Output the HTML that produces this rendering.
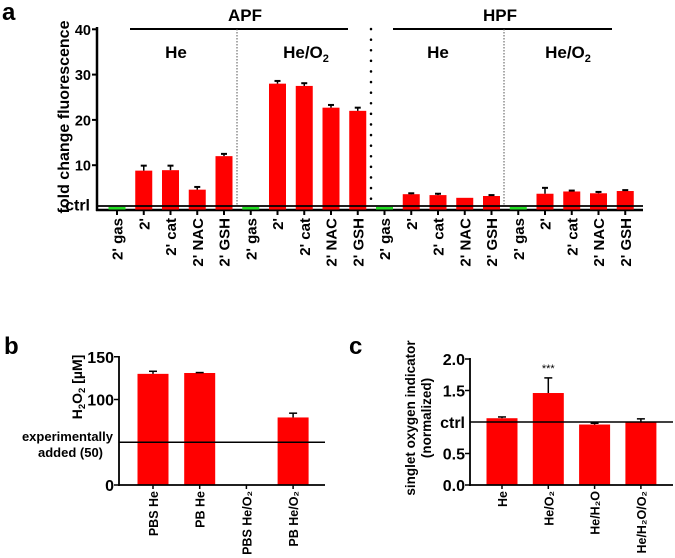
<!DOCTYPE html>
<html><head><meta charset="utf-8"><style>
body{margin:0;background:#fff}
svg{display:block;font-family:"Liberation Sans",Arial,sans-serif;font-weight:bold}
</style></head><body>
<svg id="s" width="675" height="558" viewBox="0 0 675 558">
<text x="2" y="20" font-size="24">a</text>
<text x="4" y="354" font-size="24">b</text>
<text x="349" y="354" font-size="24">c</text>
<g id="ga"></g>
<g id="gb"></g>
<g id="gc"></g>
</svg>
<script>
// Chart a data
const aCats=["2' gas","2'","2' cat","2' NAC","2' GSH","2' gas","2'","2' cat","2' NAC","2' GSH","2' gas","2'","2' cat","2' NAC","2' GSH","2' gas","2'","2' cat","2' NAC","2' GSH"];
const aVals=[0.8,8.8,8.9,4.6,12.0,0.8,28.0,27.5,22.7,22.0,0.8,3.6,3.4,2.8,3.2,0.8,3.7,4.2,3.8,4.3];
const aErr=[0,1.1,1.0,0.6,0.5,0,0.6,0.6,0.6,0.7,0,0.2,0.3,0,0.2,0,1.3,0.2,0.3,0.2];
const aTicks=[10,20,30,40];
// Chart b data
const bCats=["PBS He","PB He","PBS He/O₂","PB He/O₂"];
const bVals=[130,131,0,79];
const bErr=[3,0.5,0,5];
const bTicks=[0,100,150];
// Chart c data
const cCats=["He","He/O₂","He/H₂O","He/H₂O/O₂"];
const cVals=[1.06,1.46,0.96,1.00];
const cErr=[0.02,0.24,0.02,0.05];
const cTicks=["0.0","0.5","1.5","2.0"];
const NS="http://www.w3.org/2000/svg";
function mk(p,t,a,txt){const e=document.createElementNS(NS,t);for(const k in a)e.setAttribute(k,a[k]);if(txt!==undefined)e.textContent=txt;p.appendChild(e);return e;}
// ---- A ----
const ga=document.getElementById('ga');
const ay=v=>210.5-v*4.53, ax=i=>117+i*26.75;
mk(ga,'line',{x1:97,y1:27,x2:97,y2:211,stroke:'#000','stroke-width':2.5});
mk(ga,'line',{x1:96,y1:210,x2:643,y2:210,stroke:'#000','stroke-width':2.5});
aTicks.forEach(t=>{mk(ga,'line',{x1:92,y1:ay(t),x2:97,y2:ay(t),stroke:'#000','stroke-width':2});
const tl=mk(ga,'text',{x:91,y:ay(t)+5.5,'font-size':14.5,'text-anchor':'end'},t);

});
mk(ga,'text',{x:90,y:210.5,'font-size':16,'text-anchor':'end'},'ctrl');
const at=mk(ga,'text',{transform:'translate(69,117) rotate(-90)','font-size':16,'text-anchor':'middle'},'fold change fluorescence');

aVals.forEach((v,i)=>{const x=ax(i);
const r=mk(ga,'rect',{x:x-8.5,y:ay(v),width:17,height:ay(0)-ay(v)-1,fill:(i%5==0)?'#22dd22':'#ff0000'});

if(aErr[i]>0){mk(ga,'line',{x1:x,y1:ay(v),x2:x,y2:ay(v+aErr[i]),stroke:'#000','stroke-width':1.5});
mk(ga,'line',{x1:x-3,y1:ay(v+aErr[i]),x2:x+3,y2:ay(v+aErr[i]),stroke:'#000','stroke-width':2});}
mk(ga,'line',{x1:x,y1:210,x2:x,y2:215,stroke:'#000','stroke-width':2});
const l=mk(ga,'text',{transform:`translate(${x+5.5},218) rotate(-90)`,'font-size':15,'text-anchor':'end'},aCats[i]);
});
mk(ga,'line',{x1:97,y1:ay(1),x2:643,y2:ay(1),stroke:'#000','stroke-width':1.8});
mk(ga,'line',{x1:130,y1:29,x2:348,y2:29,stroke:'#000','stroke-width':2});
mk(ga,'line',{x1:393,y1:29,x2:612,y2:29,stroke:'#000','stroke-width':2});
mk(ga,'text',{x:245,y:21,'font-size':17,'text-anchor':'middle'},'APF');
mk(ga,'text',{x:500,y:21,'font-size':17,'text-anchor':'middle'},'HPF');
mk(ga,'line',{x1:237,y1:29,x2:237,y2:205,stroke:'#555','stroke-width':1,'stroke-dasharray':'1.5,1.5'});
mk(ga,'line',{x1:504,y1:29,x2:504,y2:205,stroke:'#555','stroke-width':1,'stroke-dasharray':'1.5,1.5'});
mk(ga,'line',{x1:371,y1:29,x2:371,y2:205,stroke:'#000','stroke-width':2.5,'stroke-dasharray':'0.1,10.5','stroke-linecap':'round'});
[[176,'He'],[438,'He']].forEach(([x,t])=>mk(ga,'text',{x:x,y:58,'font-size':17,'text-anchor':'middle'},t));
[[306],[568]].forEach(([x])=>{const t=mk(ga,'text',{x:x,y:58,'font-size':17,'text-anchor':'middle'},'He/O');mk(t,'tspan',{'font-size':11,dy:4},'2');});
// ---- B ----
const gb=document.getElementById('gb');
const by=v=>485-v*0.855, bx=i=>153+i*46.7;
bVals.forEach((v,i)=>{const x=bx(i);
const r=mk(gb,'rect',{x:x-15.5,y:by(v),width:31,height:by(0)-by(v),fill:'#ff0000'});

if(bErr[i]>0){mk(gb,'line',{x1:x,y1:by(v),x2:x,y2:by(v+bErr[i]),stroke:'#000','stroke-width':1.5});
mk(gb,'line',{x1:x-4,y1:by(v+bErr[i]),x2:x+4,y2:by(v+bErr[i]),stroke:'#000','stroke-width':1.5});}
mk(gb,'line',{x1:x,y1:485,x2:x,y2:489,stroke:'#000','stroke-width':1.5});
const l=mk(gb,'text',{transform:`translate(${x+5},491) rotate(-90)`,'font-size':12.5,'text-anchor':'end'},bCats[i]);
});
mk(gb,'line',{x1:119,y1:356,x2:119,y2:486,stroke:'#000','stroke-width':1.8});
mk(gb,'line',{x1:118,y1:485,x2:325,y2:485,stroke:'#000','stroke-width':1.8});
mk(gb,'line',{x1:119,y1:by(50),x2:325,y2:by(50),stroke:'#000','stroke-width':1.5});
bTicks.forEach(t=>{mk(gb,'line',{x1:114,y1:by(t),x2:119,y2:by(t),stroke:'#000','stroke-width':1.5});
const tl=mk(gb,'text',{x:114,y:by(t)+6,'font-size':16,'text-anchor':'end'},t);
});
mk(gb,'text',{x:113,y:441,'font-size':13,'text-anchor':'end'},'experimentally');
mk(gb,'text',{x:103,y:457,'font-size':13,'text-anchor':'end'},'added (50)');
const bt=mk(gb,'text',{transform:'translate(82,387) rotate(-90)','font-size':14,'text-anchor':'middle'});

bt.appendChild(document.createTextNode('H'));mk(bt,'tspan',{'font-size':9.5,dy:3},'2');mk(bt,'tspan',{dy:-3},'O');mk(bt,'tspan',{'font-size':9.5,dy:3},'2');mk(bt,'tspan',{dy:-3},' [µM]');
// ---- C ----
const gc=document.getElementById('gc');
const cy=v=>485-v*63, cx=i=>502+i*46.3;
cVals.forEach((v,i)=>{const x=cx(i);
const r=mk(gc,'rect',{x:x-15.5,y:cy(v),width:31,height:cy(0)-cy(v),fill:'#ff0000'});

mk(gc,'line',{x1:x,y1:cy(v),x2:x,y2:cy(v+cErr[i]),stroke:'#000','stroke-width':1.5});
mk(gc,'line',{x1:x-4,y1:cy(v+cErr[i]),x2:x+4,y2:cy(v+cErr[i]),stroke:'#000','stroke-width':1.5});
mk(gc,'line',{x1:x,y1:485,x2:x,y2:489,stroke:'#000','stroke-width':1.5});
const l=mk(gc,'text',{transform:`translate(${x+5},491) rotate(-90)`,'font-size':12.5,'text-anchor':'end'},cCats[i]);
});
mk(gc,'text',{x:cx(1),y:372,'font-size':11,'text-anchor':'middle','font-weight':'normal'},'***');
mk(gc,'line',{x1:470,y1:358,x2:470,y2:486,stroke:'#000','stroke-width':1.8});
mk(gc,'line',{x1:469,y1:485,x2:673,y2:485,stroke:'#000','stroke-width':1.8});
mk(gc,'line',{x1:470,y1:cy(1),x2:673,y2:cy(1),stroke:'#000','stroke-width':1.5});
cTicks.forEach(t=>{const v=parseFloat(t);mk(gc,'line',{x1:465,y1:cy(v),x2:470,y2:cy(v),stroke:'#000','stroke-width':1.5});
const tl=mk(gc,'text',{x:465,y:cy(v)+6,'font-size':16,'text-anchor':'end'},t);
});
mk(gc,'text',{x:465,y:cy(1)+6,'font-size':16,'text-anchor':'end'},'ctrl');
const ct=mk(gc,'text',{transform:'translate(415,418) rotate(-90)','font-size':13.5,'text-anchor':'middle'},'singlet oxygen indicator');

mk(gc,'text',{transform:'translate(431,418) rotate(-90)','font-size':13.5,'text-anchor':'middle'},'(normalized)');
</script>
</body></html>
